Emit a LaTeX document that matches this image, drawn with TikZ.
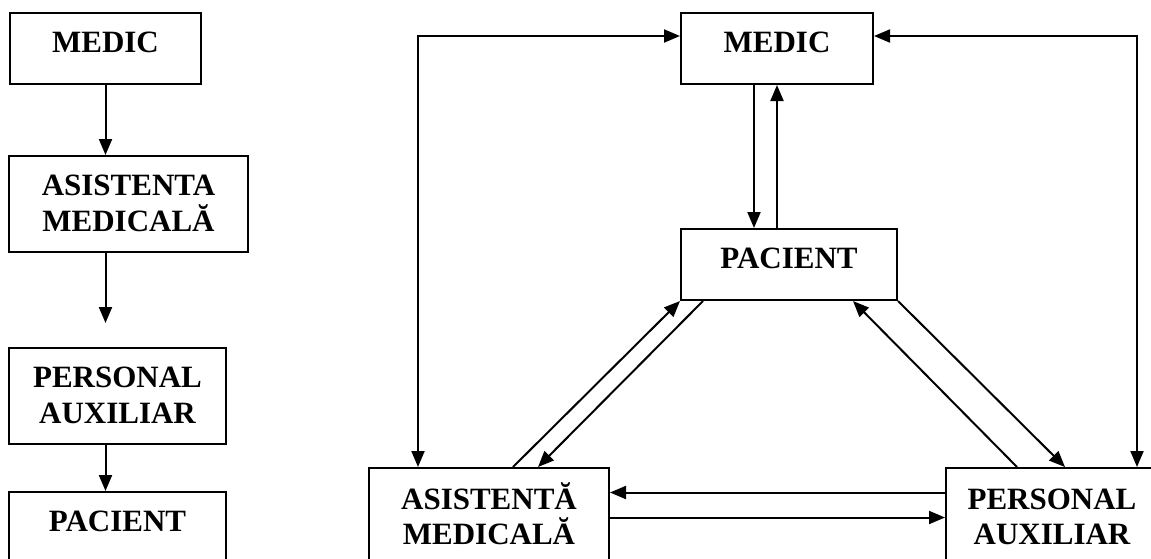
\documentclass[tikz,border=0pt]{standalone}
\usepackage{fontspec}
\setmainfont{Liberation Serif}
\usetikzlibrary{arrows.meta}
\tikzset{
	>={Triangle[length=16pt,width=13pt]},
	box/.style={draw,rectangle,align=center,inner sep=0pt,font=\fontsize{31}{35.5}\selectfont\bfseries},
	oneline/.style={box,text height=39.5pt,text depth=31.5pt},
	twoline/.style={box,text height=75pt,text depth=21pt}
}
\begin{document}
\begin{tikzpicture}[x=1pt,y=-1pt,line width=2pt]
			\useasboundingbox (0,0) rectangle (1151,558);
			% left column
			\node[oneline,minimum width=191pt] (lmedic) at (105.5,48) {MEDIC};
			\node[twoline,minimum width=239pt] (lasist) at (128.5,204) {ASISTENTA\\MEDICALĂ};
			\node[twoline,minimum width=217pt] (lpers) at (117.5,396) {PERSONAL\\AUXILIAR};
			\node[oneline,minimum width=217pt] (lpac) at (117.5,527.5) {PACIENT};
			\coordinate (lgap) at (105.5,323);
			\draw[->] (lmedic.south) -- (lmedic.south |- lasist.north);
			\draw[->] (lmedic.south |- lasist.south) -- (lgap);
			\draw[->] (lmedic.south |- lpers.south) -- (lmedic.south |- lpac.north);
			% right part
			\node[oneline,minimum width=192pt] (rmedic) at (777,48.5) {MEDIC};
			\node[oneline,minimum width=216pt] (rpac) at (789,264.5) {PACIENT};
			\node[twoline,minimum width=240pt,minimum height=99pt] (rasist) at (489,517.5) {ASISTENTĂ\\MEDICALĂ};
			\node[twoline,minimum width=212pt,minimum height=99pt] (rpers) at (1052,517.5) {PERSONAL\\AUXILIAR};
			\coordinate (lturn) at (418,36);
			\coordinate (rturn) at (1137,36);
			\draw[->] ([xshift=-23pt]rmedic.south) -- ([xshift=-23pt]rmedic.south |- rpac.north);
			\draw[->] (rmedic.south |- rpac.north) -- (rmedic.south);
			\draw[<->] (rasist.north -| lturn) -- (lturn) -- (rmedic.west |- lturn);
			\draw[<->] (rpers.north -| rturn) -- (rturn) -- (rmedic.east |- rturn);
			\draw[->] ([yshift=25pt]rpers.west) -- ([yshift=25pt]rasist.east);
			\draw[->] (rasist.east) -- (rpers.west);
			\draw[->] ([xshift=24pt]rasist.north) -- (rpac.south west);
			\draw[->] ([xshift=23pt]rpac.south west) -- ([xshift=49pt]rasist.north);
			\draw[->] ([xshift=-35pt]rpers.north) -- ([xshift=-45pt]rpac.south east);
			\draw[->] (rpac.south east) -- ([xshift=13pt]rpers.north);
		\end{tikzpicture}
\end{document}
